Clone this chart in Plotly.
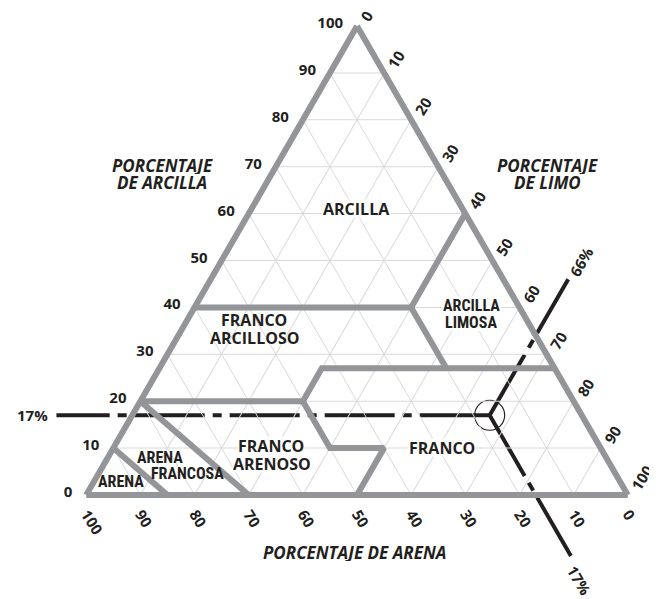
import math
import plotly.graph_objects as go

# ejes: arcilla (a, vértice superior), arena (b, izquierda), limo (c, derecha)
ticks = list(range(0, 101, 10))

# límites de las clases texturales: (arcilla, arena, limo)
lim_arcilla = ([40, 40, 60], [60, 20, 0], [0, 40, 40])
lim_arcilla_limosa = ([40, 27], [20, 20], [40, 53])
lim_franco_arriba = ([27, 27, 20, 20], [0, 43, 50, 80], [73, 30, 30, 0])
lim_franco_abajo = ([20, 10, 10, 0], [50, 50, 40, 50], [30, 40, 50, 50])
lim_arena_francosa = ([20, 0], [80, 70], [0, 30])
lim_arena = ([10, 0], [90, 85], [0, 15])

# muestra: 17 % arcilla, 17 % arena, 66 % limo, y las guías hasta fuera del triángulo
muestra = (17, 17, 66)
guia_arcilla = ([17, 17], [17, 97], [66, -14])
guia_limo = ([17, 46], [17, -12], [66, 66])
guia_arena = ([17, -13], [17, 17], [66, 96])

GRIS = "#939598"
NEGRO = "#231f20"
FONT = "Open Sans"
NARROW = "Roboto Condensed, Noto Sans Condensed, Liberation Sans Narrow, DejaVu Sans Condensed, sans-serif"

W, H = 657, 599
OFF = 8  # margen del body de la página

# triángulo en píxeles de la página
TOP, BOTTOM, CX = 26, 495, 357
y0 = 1 - (BOTTOM - OFF) / H
y1 = 1 - (TOP - OFF) / H
xc = (CX - OFF) / W
h_px = (y1 - y0) * H
side = h_px * 2 / math.sqrt(3)
half = side / W / 2 + 0.01
left_px = xc * W - side / 2
bottom_px = (1 - y0) * H
s = side / 100


def cart(a, b, c):
    return ([ci + ai / 2 for ai, ci in zip(a, c)],
            [ai * math.sqrt(3) / 2 for ai in a])


fig = go.Figure()

for a, b, c in [lim_arcilla, lim_arcilla_limosa, lim_franco_arriba,
                lim_franco_abajo, lim_arena_francosa, lim_arena]:
    fig.add_trace(go.Scatterternary(a=a, b=b, c=c, mode="lines",
                                    line=dict(color=GRIS, width=6),
                                    hoverinfo="skip"))

for a, b, c in [guia_arcilla, guia_limo, guia_arena]:
    x, y = cart(a, b, c)
    fig.add_trace(go.Scatter(x=x, y=y, mode="lines", cliponaxis=False,
                             line=dict(color=NEGRO, width=4, dash="70px,8px,9px,8px"),
                             hoverinfo="skip"))

x, y = cart([muestra[0]], [muestra[1]], [muestra[2]])
fig.add_trace(go.Scatter(x=x, y=y, mode="markers", cliponaxis=False,
                         marker=dict(symbol="circle-open", size=30,
                                     color=NEGRO, line=dict(width=1.2))))

eje = dict(tickvals=ticks, ticktext=[str(t) for t in ticks],
           showgrid=True, gridcolor="#d9d9d9", gridwidth=1,
           showline=True, linecolor=GRIS, linewidth=6,
           ticks="outside", tickcolor="rgba(0,0,0,0)",
           tickfont=dict(family=FONT, size=15, color=NEGRO, weight="bold"),
           title=dict(text=""), min=0)

fig.update_layout(
    width=W, height=H,
    margin=dict(l=0, r=0, t=0, b=0),
    paper_bgcolor="white",
    plot_bgcolor="rgba(0,0,0,0)",
    showlegend=False,
    ternary=dict(
        sum=100,
        bgcolor="rgba(0,0,0,0)",
        domain=dict(x=[xc - half, xc + half], y=[y0, y1]),
        aaxis=dict(eje, ticklen=9),
        baxis=dict(eje, tickangle=58, ticklen=1),
        caxis=dict(eje, tickangle=-58, ticklen=2),
    ),
    xaxis=dict(visible=False, range=[-left_px / s, (W - left_px) / s], domain=[0, 1]),
    yaxis=dict(visible=False, range=[(bottom_px - H) / s, bottom_px / s], domain=[0, 1]),
)


def nota(texto, x, y, fuente=FONT, size=16, italic=False, bg=None, angle=0, alto=None):
    fig.add_annotation(text="<b>" + texto + "</b>", x=(x - OFF) / W, y=1 - (y - OFF) / H,
                       xref="paper", yref="paper", xanchor="center", yanchor="middle",
                       showarrow=False, textangle=angle, height=alto,
                       bgcolor=bg, borderpad=0,
                       font=dict(family=fuente, size=size, color=NEGRO, weight="bold",
                                 style="italic" if italic else "normal"))


# títulos de los ejes
for texto, x, y in [("PORCENTAJE", 162, 165), ("DE ARCILLA", 162, 183),
                    ("PORCENTAJE", 547, 165), ("DE LIMO", 547, 183),
                    ("PORCENTAJE DE ARENA", 354, 552)]:
    nota(texto, x, y, size=17, italic=True, alto=17)

# nombres de las clases texturales
for texto, x, y in [("ARCILLA", 356, 208), ("FRANCO", 442, 447),
                    ("FRANCO", 271, 445), ("ARENOSO", 272, 463)]:
    nota(texto, x, y, bg="white", alto=17)
for texto, x, y in [("FRANCO", 254, 319), ("ARCILLOSO", 254, 337)]:
    nota(texto, x, y, alto=17)

for texto, x, y in [("ARCILLA", 471, 305), ("LIMOSA", 471, 322)]:
    nota(texto, x, y, fuente=NARROW, size=16, bg="white", alto=16)
for texto, x, y in [("ARENA", 160, 457), ("FRANCOSA", 187, 473), ("ARENA", 121, 482)]:
    nota(texto, x, y, fuente=NARROW, size=16, alto=15)

nota("17%", 32, 415, size=15)
nota("66%", 581, 262, size=15, angle=-60)
nota("17%", 579, 580, size=15, angle=60)

fig.write_html("out.html")
